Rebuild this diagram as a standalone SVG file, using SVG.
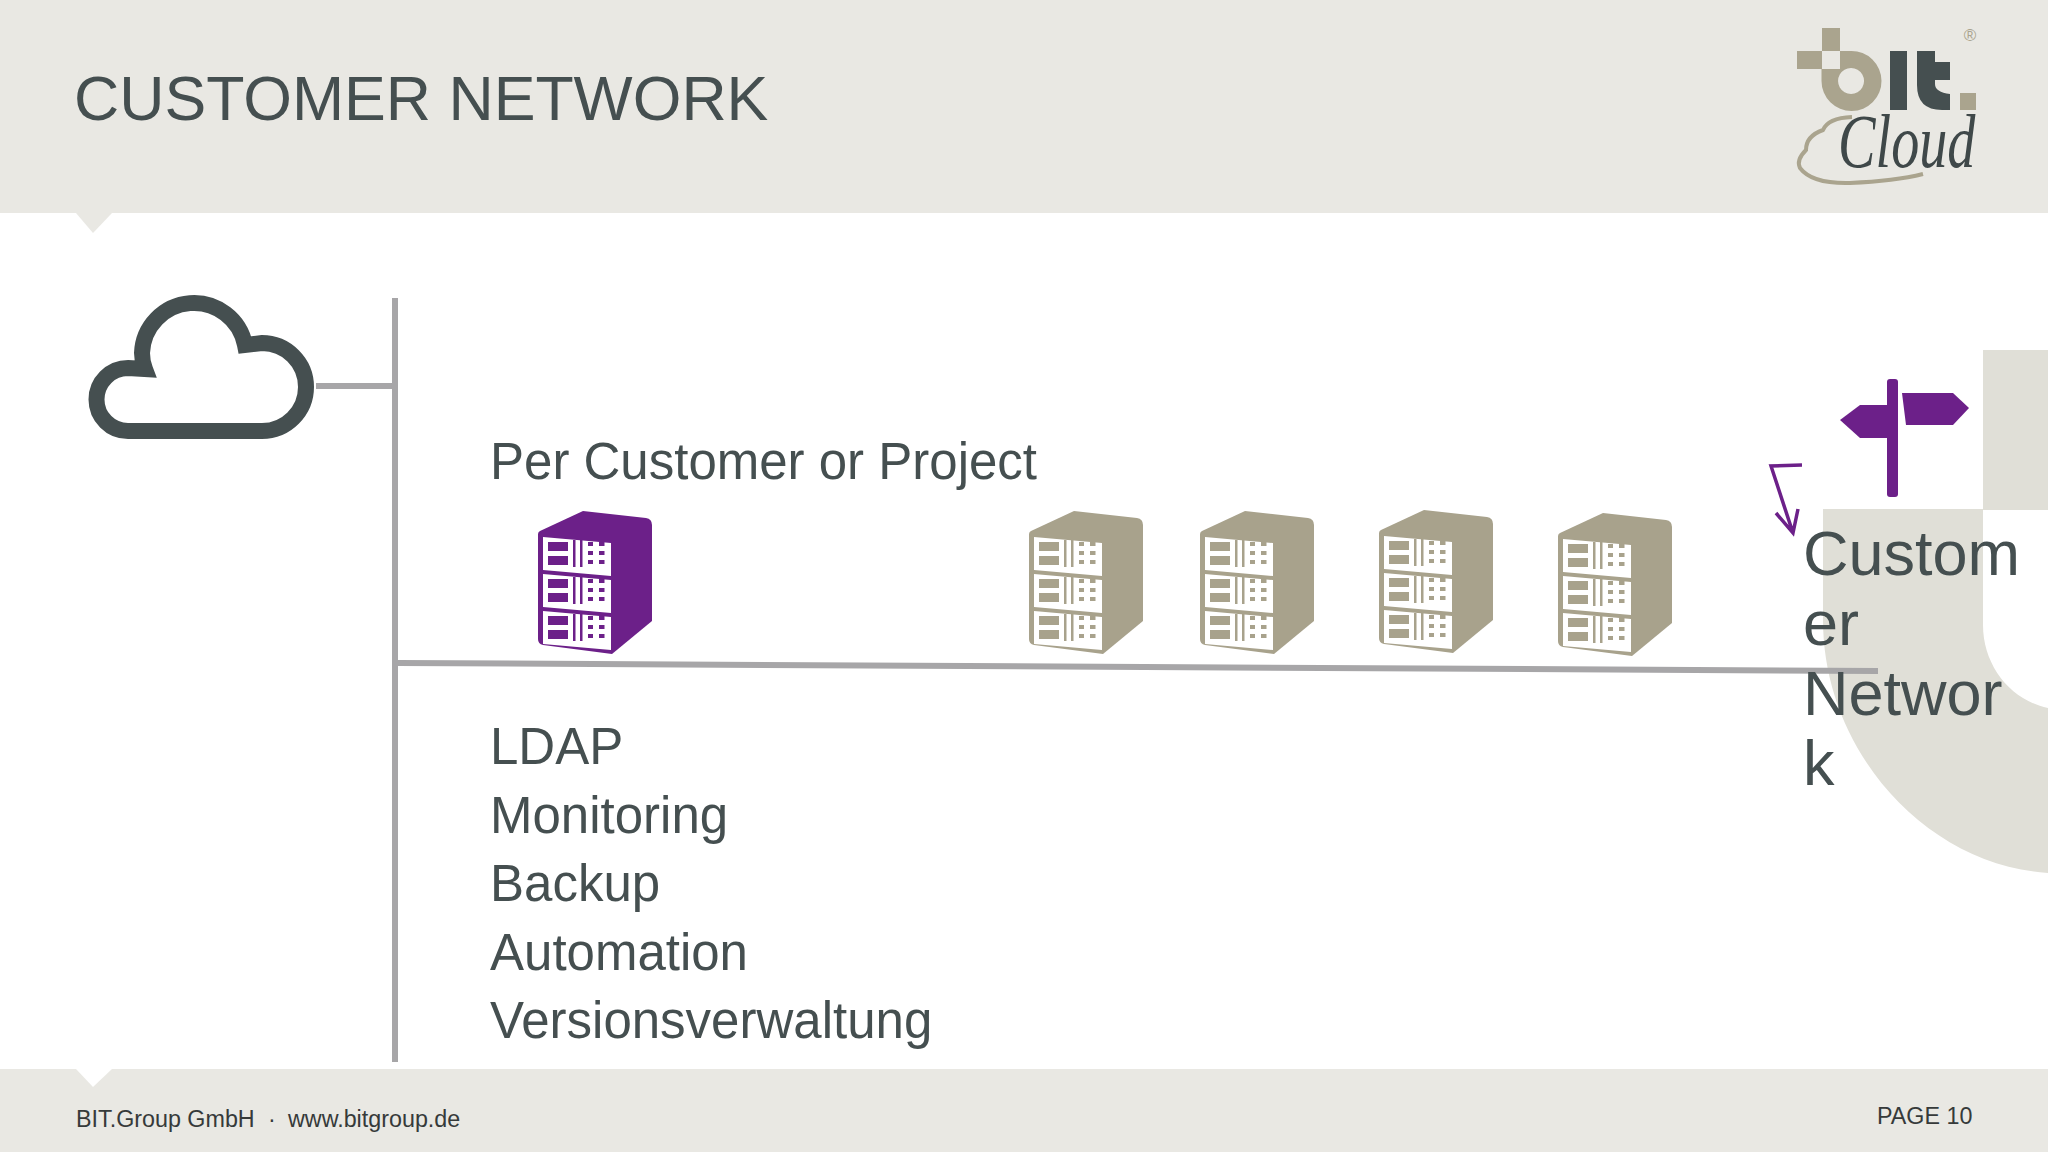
<svg xmlns="http://www.w3.org/2000/svg" xmlns:xlink="http://www.w3.org/1999/xlink" width="2048" height="1152" viewBox="0 0 2048 1152">
<style>
text{font-family:"Liberation Sans",Arial,sans-serif;fill:#454f50}
.body{font-size:51px}
.big{font-size:63px}
.foot{font-size:23.300px;fill:#363a3a}
.conn{stroke:#a7a6a8;fill:none}
.bg{fill:#e9e8e3}
.deco{fill:#e0dfd7}
.tan{fill:#aaa48e}
.dk{fill:#454f50}
</style>
<defs>
<g id="panel">
<path d="M0 0L68 6V39L0 33Z" fill="#fff"/>
<g fill="currentColor">
<rect x="5" y="5" width="20" height="9"/><rect x="5" y="19" width="20" height="9"/>
<rect x="30" y="3" width="2.500" height="27"/><rect x="37" y="3" width="2.500" height="27"/>
<rect x="45" y="5" width="5" height="4"/><rect x="56" y="5" width="5.500" height="4"/>
<rect x="45" y="14" width="5" height="4"/><rect x="56" y="14" width="5.500" height="4"/>
<rect x="45" y="23" width="5" height="4"/><rect x="56" y="23" width="5.500" height="4"/>
</g>
</g>
<g id="server">
<path d="M2 20L45 0L108 7Q114 8 114 14V110L74 143L5 134Q0 133 0 128V23Q0 21 2 20Z" fill="currentColor"/>
<use xlink:href="#panel" href="#panel" transform="translate(5 26)"/>
<use xlink:href="#panel" href="#panel" transform="translate(5 63)"/>
<use xlink:href="#panel" href="#panel" transform="translate(5 100)"/>
</g>
</defs>
<rect width="2048" height="1152" fill="#fff"/>
<g id="background">
<rect class="bg" width="2048" height="213"/>
<path class="bg" d="M76 213H112L93 233Z"/>
<rect class="bg" y="1069" width="2048" height="83"/>
<path d="M76 1069H112L93 1087Z" fill="#fff"/>
<rect class="deco" x="1983" y="350" width="65" height="160"/>
<path class="deco" d="M1823 509H1983V625C1983 665 2010 700 2048 708V873C1925 865 1823 750 1823 620Z"/>
</g>
<text id="title" x="74" y="120" font-size="62.600">CUSTOMER NETWORK</text>
<g id="logo">
<rect class="tan" x="1822" y="28" width="18" height="23"/>
<rect class="tan" x="1797" y="51" width="25" height="18"/>
<path class="tan" fill-rule="evenodd" d="M1840 51H1851A30 30 0 1 1 1821.500 81V69H1840ZM1851 68A13 13 0 1 0 1851.100 68Z"/>
<rect class="dk" x="1890" y="51" width="17" height="59"/>
<path class="dk" d="M1917 51H1935V62H1950V80H1935V84Q1935 92 1950 94V110H1942Q1917 110 1917 85Z"/>
<rect class="tan" x="1960" y="93" width="16" height="17"/>
<text x="1970" y="41" font-size="17" text-anchor="middle" style="fill:#aaa48e">®</text>
<path d="M1852 117Q1828 118 1823 130Q1806 136 1806 150Q1796 160 1800 168Q1812 184 1850 183Q1895 181 1923 174" fill="none" stroke="#aaa48e" stroke-width="4"/>
<text font-size="76" transform="translate(1838 167) scale(.74 1)" style="font-family:'Liberation Serif',serif;font-style:italic;fill:#3f4849">Cloud</text>
</g>
<g id="connectors">
<path class="conn" stroke-width="6" d="M395 298V1062"/>
<path class="conn" stroke-width="6" d="M316 386H395"/>
<path class="conn" stroke-width="6" d="M398 663L1878 671"/>
</g>
<g id="cloud">
<path fill="none" stroke="#454f50" stroke-width="16" d="M128 431H262A44 44 0 0 0 262 343L245 345A52 52 0 0 0 142 353Q142 361 145 369L128 368A31.500 31.500 0 0 0 128 431Z"/>
</g>
<text id="per-customer" class="body" x="490" y="479">Per Customer or Project</text>
<g id="server-1" style="color:#6c2089"><use xlink:href="#server" href="#server" x="538" y="511"/></g>
<g id="server-2" style="color:#a8a28c"><use xlink:href="#server" href="#server" x="1029" y="511"/></g>
<g id="server-3" style="color:#a8a28c"><use xlink:href="#server" href="#server" x="1200" y="511"/></g>
<g id="server-4" style="color:#a8a28c"><use xlink:href="#server" href="#server" x="1379" y="510"/></g>
<g id="server-5" style="color:#a8a28c"><use xlink:href="#server" href="#server" x="1558" y="513"/></g>
<g id="services">
<text class="body" x="490" y="764">LDAP</text>
<text class="body" x="490" y="833">Monitoring</text>
<text class="body" x="490" y="901">Backup</text>
<text class="body" x="490" y="970">Automation</text>
<text class="body" x="490" y="1038">Versionsverwaltung</text>
</g>
<g id="signpost" fill="#6c2089">
<rect x="1887" y="379" width="11" height="118" rx="3"/>
<path d="M1887 405H1860L1840 420L1860 438H1887Z"/>
<path d="M1902 393H1953L1969 408L1953 425H1906Z"/>
</g>
<path id="scribble" fill="none" stroke="#6c2089" stroke-width="3.500" d="M1802 465L1771 466L1793 533M1776 513L1793 533L1798 509"/>
<g id="customer-network">
<text class="big" x="1803" y="575">Custom</text>
<text class="big" x="1803" y="645">er</text>
<text class="big" x="1803" y="715">Networ</text>
<text class="big" x="1803" y="785">k</text>
</g>
<g id="footer">
<text class="foot" y="1127"><tspan x="76">BIT.Group GmbH</tspan><tspan x="268">·</tspan><tspan x="288">www.bitgroup.de</tspan></text>
<text class="foot" x="1877" y="1124">PAGE 10</text>
</g>
</svg>
